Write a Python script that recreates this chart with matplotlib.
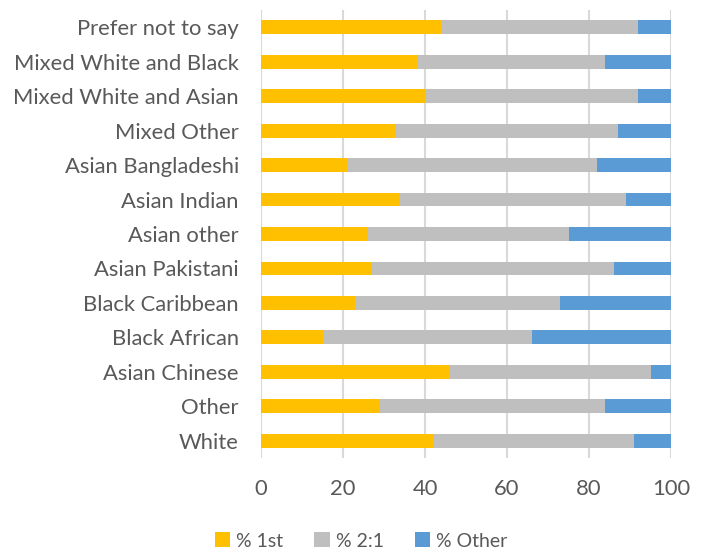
import matplotlib
matplotlib.use("Agg")
import matplotlib.pyplot as plt
import numpy as np

categories = ["White", "Other", "Asian Chinese", "Black African", "Black Caribbean",
              "Asian Pakistani", "Asian other", "Asian Indian", "Asian Bangladeshi",
              "Mixed Other", "Mixed White and Asian", "Mixed White and Black",
              "Prefer not to say"]
pct_first = [42, 29, 46, 15, 23, 27, 26, 34, 21, 33, 40, 38, 44]
pct_21 = [49, 55, 49, 51, 50, 59, 49, 55, 61, 54, 52, 46, 48]
pct_other = [9, 16, 5, 34, 27, 14, 25, 11, 18, 13, 8, 16, 8]
series_names = ["% 1st", "% 2:1", "% Other"]
colors = ["#FFC000", "#BFBFBF", "#5B9BD5"]
xticks = [0, 20, 40, 60, 80, 100]

plt.rcParams['font.family'] = ['Lato', 'DejaVu Sans']

fig = plt.figure(figsize=(7.04, 5.53), dpi=100)
ax = fig.add_axes([261/704, 1-458/553, 410/704, 448/553])

y = np.arange(len(categories))
left = np.zeros(len(categories))
for vals, name, c in zip([pct_first, pct_21, pct_other], series_names, colors):
    ax.barh(y, vals, left=left, height=0.4, color=c, label=name, zorder=3)
    left += np.array(vals)

ax.set_xlim(0, 100)
ax.set_ylim(-0.5, len(categories) - 0.5)
ax.set_xticks(xticks)
ax.set_yticks(y)
ax.set_yticklabels(categories)
ax.grid(axis='x', color='#D9D9D9', linewidth=1.5, zorder=0)
for s in ax.spines.values():
    s.set_visible(False)
ax.tick_params(axis='y', length=0, pad=16, labelsize=15.8, labelcolor='#595959')
ax.tick_params(axis='x', length=0, pad=15, labelsize=15.8, labelcolor='#595959')

handles, labels = ax.get_legend_handles_labels()
fig.legend(handles, labels, loc='center', bbox_to_anchor=(361/704, 1-541/553), ncol=3,
           frameon=False, fontsize=14, handlelength=0.8, handleheight=0.8,
           handletextpad=0.3, columnspacing=1.6, labelcolor='#595959')

fig.savefig("out.png", dpi=100)
